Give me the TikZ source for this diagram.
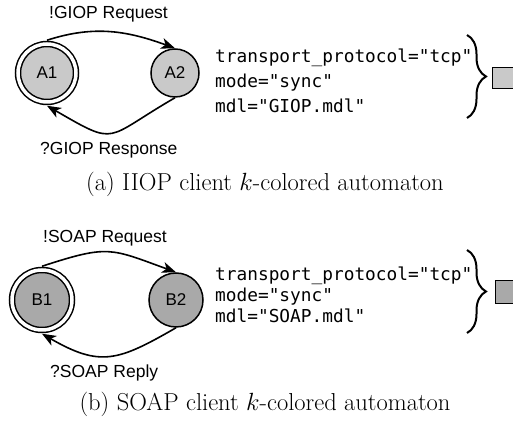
\documentclass[tikz,border=0pt]{standalone}
\usepackage{fontspec}
\setmonofont{DejaVu Sans Mono}
\newfontfamily\lblfont{Liberation Sans}
\usepackage{tikz}
\usetikzlibrary{arrows.meta,decorations.pathreplacing}
\definecolor{stgrayA}{HTML}{C9C9C9}
\definecolor{stgrayB}{HTML}{A9A9A9}

\begin{document}
\begin{tikzpicture}[x=1pt,y=1pt,
	stnode/.style={circle,draw,line width=1.5pt,inner sep=0pt,font=\lblfont\fontsize{17}{20}\selectfont},
	initnode/.style={stnode,double,double distance=3.5pt,outer sep=3.75pt},
	trans/.style={line width=1.6pt,-{Stealth[length=14pt,width=11pt,inset=4pt]}},
	act/.style={font=\lblfont\fontsize{17.5}{21}\selectfont,inner sep=0pt,anchor=base west},
	colbox/.style={draw,line width=0.6pt,minimum size=21pt,inner sep=0pt,anchor=north west},
	cbrace/.style={decorate,decoration={brace,amplitude=19pt},line width=2pt}]
			\tikzset{params/.style={font=\ttfamily\fontsize{17.8}{25}\selectfont,align=left,inner sep=0pt,anchor=north west},
				subcap/.style={font=\fontsize{24.5}{29}\selectfont,inner sep=0pt,anchor=base}}
			\useasboundingbox (0,0) rectangle (513,422);
			% IIOP
			\node[initnode,fill=stgrayA,minimum size=58pt] (A1) at (47,349) {A1};
			\node[stnode,fill=stgrayA,minimum size=48pt] (A2) at (175,349) {A2};
			\draw[trans] (A1.north) to[out=18,in=160] (A2.north);
			\draw[trans] (A2.south) to[out=-150,in=-30,looseness=1.65] (A1.south);
			\node[act] (reqA) at (49,403) {!GIOP Request};
			\node[act] (respA) at (40,267) {?GIOP Response};
			\node[params] (parA) at (215,373.5) {transport\_protocol="tcp"\\mode="sync"\\mdl="GIOP.mdl"};
			\coordinate (brAt) at (467,387);
			\coordinate (brAb) at (467,304);
			\draw[cbrace] (brAt) -- (brAb);
			\node[colbox,fill=stgrayA] (sqA) at (492,355) {};
			\node[subcap] (capA) at (265,231) {(a) IIOP client $k$-colored automaton};
			% SOAP
			\node[initnode,fill=stgrayB,minimum size=60pt] (B1) at (42,122) {B1};
			\node[stnode,fill=stgrayB,minimum size=54pt] (B2) at (176,122) {B2};
			\draw[trans] (B1.north) to[out=18,in=160,looseness=1.34] (B2.north);
			\draw[trans] (B2.south) to[out=-150,in=-30,looseness=1.28] (B1.south);
			\node[act] (reqB) at (43,179) {!SOAP Request};
			\node[act] (respB) at (50,44) {?SOAP Reply};
			\node[params,font=\ttfamily\fontsize{17.8}{21}\selectfont] (parB) at (215,155.5) {transport\_protocol="tcp"\\mode="sync"\\mdl="SOAP.mdl"};
			\coordinate (brBt) at (467,172);
			\coordinate (brBb) at (467,89);
			\draw[cbrace] (brBt) -- (brBb);
			\node[colbox,fill=stgrayB,minimum size=23pt] (sqB) at (495,142) {};
			\node[subcap] (capB) at (265,11) {(b) SOAP client $k$-colored automaton};
		\end{tikzpicture}
\end{document}
